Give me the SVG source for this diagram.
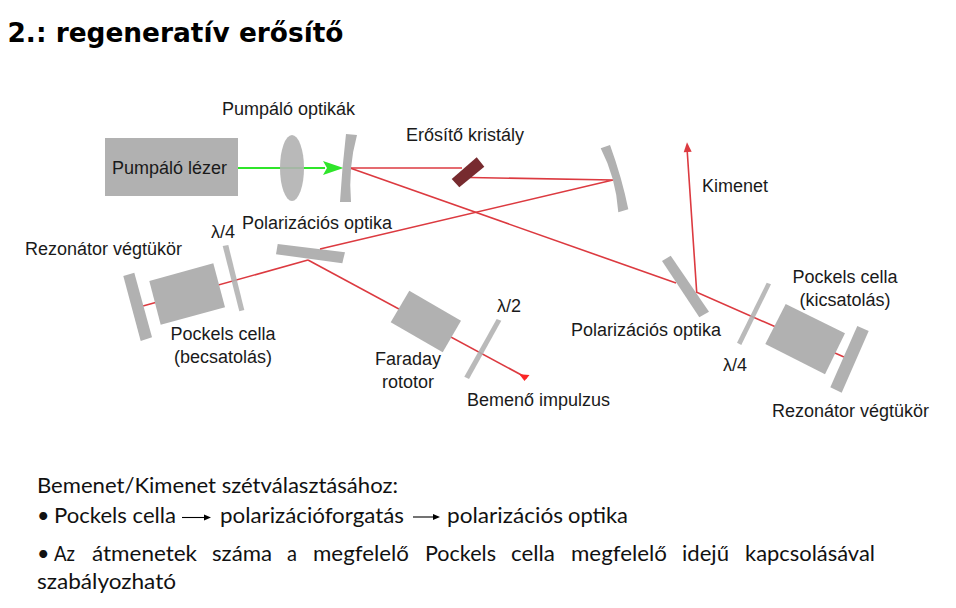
<svg xmlns="http://www.w3.org/2000/svg" width="956" height="608" viewBox="0 0 956 608">
<style>
.g{fill:#b1b1b1}
.h{fill:#b1b1b1;fill-opacity:.88}
.l{font:18px "Liberation Sans",Arial,sans-serif;fill:#1a1a1a}
.c{text-anchor:middle}
.b{font:21.5px Lato,"Noto Sans",sans-serif;fill:#111}
.t{font:bold 26.4px "DejaVu Sans",Verdana,sans-serif;fill:#000}
.r{fill:none;stroke:#dc3a40;stroke-width:1.6}
.k{fill:none;stroke:#000;stroke-width:1.1}
</style>
<rect width="956" height="608" fill="#fff"/>
<text class="t" x="7.5" y="42">2.: regeneratív erősítő</text>
<g id="pol-left"><path class="g" d="M277.7 244L345 252.3L342.3 263.3L276 254.3Z"/><text class="l" x="242" y="229">Polarizációs optika</text></g>
<g id="pol-right"><path class="g" d="M670.7 255.7L709 311.7L699.3 317.3L662 261Z"/><text class="l" x="571" y="336">Polarizációs optika</text></g>
<g id="connectors">
<path class="r" d="M350 168H462"/>
<path class="r" d="M470 177.5L613 180L320 249"/>
<path class="r" d="M308 260L143 306"/>
<path class="r" d="M308 260L527 378"/>
<path class="r" d="M350 168L676 283"/>
<path class="r" d="M687 148L696.7 292.3L844 357"/>
<path fill="#dc3a40" d="M687 142.3L691.7 151.7L683.7 152.3Z"/>
<path fill="#fb2626" d="M519.3 374.3L529.5 375L524.5 381Z"/>
<path d="M238 168H325" fill="none" stroke="#2fe52a" stroke-width="1.8"/>
<path fill="#2fe52a" d="M323 161L343.5 168L323 175L327 168Z"/>
</g>
<g id="pump-laser"><rect class="g" x="105" y="138" width="133" height="58"/><text class="l" x="112" y="174">Pumpáló lézer</text></g>
<g id="pump-lens"><ellipse cx="292" cy="168" rx="12" ry="33" fill="#b1b1b1" fill-opacity=".9"/></g>
<g id="pump-mirror"><path class="g" d="M346 134L357 135Q348 168 351 202L340 202Q342 168 346 134Z"/></g>
<g id="pump-label"><text class="l" x="222" y="115">Pumpáló optikák</text></g>
<g id="crystal"><path fill="#772b2f" d="M476.7 157.3L484.3 166.7L459.3 187.3L451.7 179Z"/><text class="l" x="406" y="141">Erősítő kristály</text></g>
<g id="curved-mirror"><path class="g" d="M600.7 148.3L610 145Q622 178 628.3 209.3L618.3 212.3Q616 178 600.7 148.3Z"/></g>
<g id="lambda4-left"><path class="h" d="M222.7 246L228.3 245L244.3 310L239.3 311.3Z"/><text class="l" x="211" y="238">λ/4</text></g>
<g id="pockels-left"><path class="g" d="M149.3 281L213.3 263.3L225 307.3L160.7 324.7Z"/><text class="l c" x="223" y="340">Pockels cella</text><text class="l c" x="223" y="363">(becsatolás)</text></g>
<g id="mirror-left"><path class="g" d="M123.3 276L134.3 272.7L152 337.3L140.7 341Z"/><text class="l" x="25" y="255">Rezonátor végtükör</text></g>
<g id="faraday"><path class="g" d="M409.3 290.7L461 320.7L442.7 352.3L390.7 322.3Z"/><text class="l c" x="408" y="365">Faraday</text><text class="l c" x="408" y="388">rototor</text></g>
<g id="lambda2"><path class="h" d="M496.7 319L501.3 320.7L469 379L464.3 376.7Z"/><text class="l" x="497" y="312">λ/2</text></g>
<g id="input"><text class="l" x="467" y="406">Bemenő impulzus</text></g>
<g id="output"><text class="l" x="702" y="192">Kimenet</text></g>
<g id="lambda4-right"><path class="h" d="M766.7 282.7L771 284.3L741.3 345L737 342.7Z"/><text class="l" x="723" y="371">λ/4</text></g>
<g id="pockels-right"><path class="g" d="M785.7 304L845 333.3L825 374.3L765.3 344Z"/><text class="l c" x="845" y="283">Pockels cella</text><text class="l c" x="845" y="306">(kicsatolás)</text></g>
<g id="mirror-right"><path class="g" d="M857.3 326L868.7 331L841.7 392.7L830.3 387.3Z"/><text class="l" x="772" y="417">Rezonátor végtükör</text></g>
<g id="notes">
<text class="b" x="37" y="492.5" textLength="361" lengthAdjust="spacingAndGlyphs">Bemenet/Kimenet szétválasztásához:</text>
<text class="b" x="37" y="522.5">•</text>
<text class="b" x="54" y="522.5" textLength="122" lengthAdjust="spacingAndGlyphs">Pockels cella</text>
<path class="k" d="M182 517.5H206"/><path d="M204 514.5L211 517.5L204 520.5Z"/>
<text class="b" x="220" y="522.5" textLength="184" lengthAdjust="spacingAndGlyphs">polarizációforgatás</text>
<path class="k" d="M413 517H435"/><path d="M433 514L440 517L433 520Z"/>
<text class="b" x="447" y="522.5" textLength="116" lengthAdjust="spacingAndGlyphs">polarizációs</text>
<text class="b" x="568" y="522.5" textLength="60" lengthAdjust="spacingAndGlyphs">optika</text>
<text class="b" x="37" y="561">•</text>
<text class="b" x="54" y="561" textLength="21" lengthAdjust="spacingAndGlyphs">Az</text>
<text class="b" x="92" y="561" textLength="105" lengthAdjust="spacingAndGlyphs">átmenetek</text>
<text class="b" x="212" y="561" textLength="60" lengthAdjust="spacingAndGlyphs">száma</text>
<text class="b" x="287" y="561" textLength="10" lengthAdjust="spacingAndGlyphs">a</text>
<text class="b" x="313" y="561" textLength="96" lengthAdjust="spacingAndGlyphs">megfelelő</text>
<text class="b" x="425" y="561" textLength="71" lengthAdjust="spacingAndGlyphs">Pockels</text>
<text class="b" x="511" y="561" textLength="44" lengthAdjust="spacingAndGlyphs">cella</text>
<text class="b" x="571" y="561" textLength="96" lengthAdjust="spacingAndGlyphs">megfelelő</text>
<text class="b" x="682" y="561" textLength="47" lengthAdjust="spacingAndGlyphs">idejű</text>
<text class="b" x="745" y="561" textLength="130" lengthAdjust="spacingAndGlyphs">kapcsolásával</text>
<text class="b" x="37" y="589" textLength="139" lengthAdjust="spacingAndGlyphs">szabályozható</text>
</g>
</svg>
